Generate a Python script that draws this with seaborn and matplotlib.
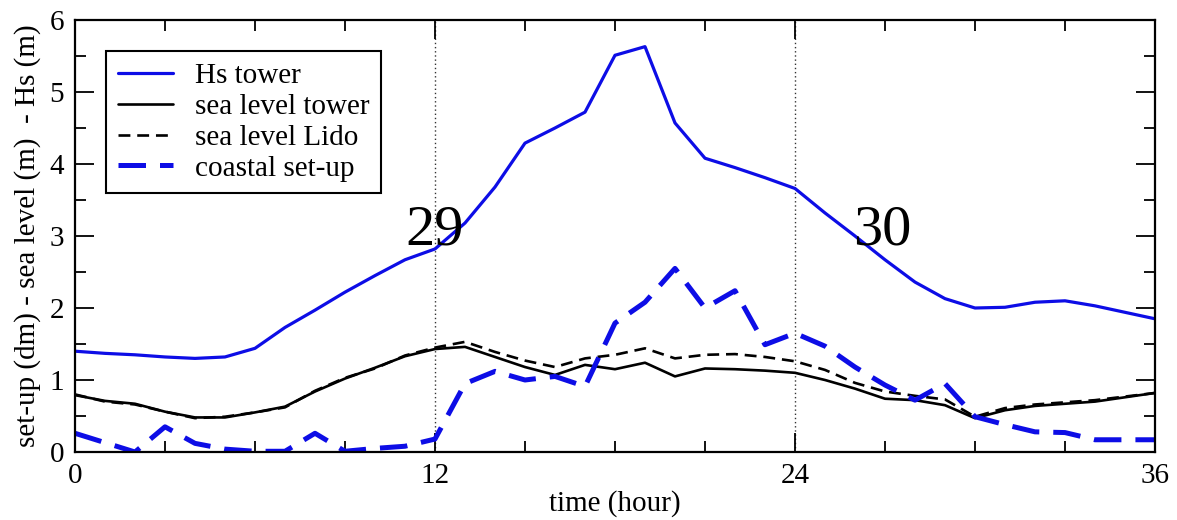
import numpy as np
import pandas as pd
import matplotlib
matplotlib.use("Agg")
import matplotlib.pyplot as plt
from matplotlib.ticker import MultipleLocator
import seaborn as sns

# ---- data ----
time_h = list(range(0, 37))
hs_tower = [1.40, 1.37, 1.35, 1.32, 1.30, 1.32, 1.44, 1.73, 1.97, 2.22, 2.45, 2.67, 2.82,
            3.18, 3.68, 4.29, 4.50, 4.72, 5.51, 5.63, 4.57, 4.08, 3.95, 3.81, 3.66,
            3.32, 3.00, 2.67, 2.36, 2.13, 2.00, 2.01, 2.08, 2.10, 2.03, 1.94, 1.85]
sea_tower = [0.79, 0.71, 0.67, 0.56, 0.48, 0.48, 0.55, 0.63, 0.84, 1.02, 1.17, 1.33, 1.43,
             1.46, 1.32, 1.18, 1.07, 1.21, 1.15, 1.24, 1.05, 1.16, 1.15, 1.13, 1.10,
             1.00, 0.88, 0.74, 0.72, 0.65, 0.47, 0.58, 0.64, 0.67, 0.70, 0.76, 0.82]
sea_lido = [0.80, 0.70, 0.66, 0.56, 0.47, 0.49, 0.55, 0.62, 0.85, 1.03, 1.16, 1.34, 1.45,
            1.53, 1.39, 1.27, 1.18, 1.30, 1.35, 1.44, 1.30, 1.35, 1.36, 1.32, 1.26,
            1.14, 0.96, 0.84, 0.78, 0.73, 0.49, 0.61, 0.66, 0.69, 0.72, 0.77, 0.82]
coastal_setup = [0.26, 0.13, 0.00, 0.35, 0.12, 0.04, 0.01, 0.01, 0.26, 0.01, 0.05, 0.08, 0.18,
                 0.95, 1.12, 1.00, 1.05, 0.91, 1.79, 2.08, 2.55, 2.00, 2.24, 1.49, 1.65,
                 1.47, 1.18, 0.93, 0.72, 0.95, 0.49, 0.38, 0.28, 0.27, 0.17, 0.17, 0.17]
day_marks = [12, 24]
day_labels = ["29", "30"]
day_label_x = [12, 26.9]
day_label_y = [3.08, 3.08]
x_ticks = [0, 12, 24, 36]
y_ticks = [0, 1, 2, 3, 4, 5, 6]

# ---- style ----
sns.set_style("ticks")
plt.rcParams["font.family"] = ["Liberation Serif", "DejaVu Serif"]
for key in ["text.color", "axes.labelcolor", "xtick.color", "ytick.color", "axes.edgecolor"]:
    plt.rcParams[key] = "black"

BLUE = "#0d0de6"

fig = plt.figure(figsize=(11.77, 5.2), dpi=100)
ax = fig.add_axes([75 / 1177, 68 / 520, 1080 / 1177, 432 / 520])

sns.lineplot(x=time_h, y=hs_tower, ax=ax, color=BLUE, lw=2.3, label="Hs tower")
sns.lineplot(x=time_h, y=sea_tower, ax=ax, color="black", lw=1.9, label="sea level tower")
sns.lineplot(x=time_h, y=sea_lido, ax=ax, color="black", lw=1.9,
             linestyle=(0, (4.5, 2.6)), label="sea level Lido")
sns.lineplot(x=time_h, y=coastal_setup, ax=ax, color=BLUE, lw=3.6,
             linestyle=(0, (5.5, 2.8)), label="coastal set-up")

for xm in day_marks:
    ax.axvline(xm, color="#333333", ls=(0, (1, 2)), lw=1.0, zorder=0)
for lx, ly, lab in zip(day_label_x, day_label_y, day_labels):
    ax.text(lx, ly, lab, fontsize=42, ha="center", va="center", color="black")

ax.set_xlim(0, 36)
ax.set_ylim(0, 6)
ax.set_xticks(x_ticks)
ax.set_yticks(y_ticks)
ax.xaxis.set_minor_locator(MultipleLocator(3))
ax.yaxis.set_minor_locator(MultipleLocator(0.5))
ax.tick_params(which="both", direction="in", top=True, right=True, width=1.3,
               colors="black", labelsize=21, pad=8)
ax.tick_params(which="major", length=14)
ax.tick_params(which="minor", length=8)
for s in ax.spines.values():
    s.set_linewidth(1.6)
    s.set_color("black")

ax.set_xlabel("time (hour)", fontsize=21, labelpad=1)
ax.set_ylabel("set-up (dm) - sea level (m)  - Hs (m)", fontsize=21, labelpad=6)

leg = ax.legend(loc="upper left", bbox_to_anchor=(0.029, 0.928), borderaxespad=0,
                fontsize=21, frameon=True, fancybox=False, edgecolor="black",
                handlelength=1.9, handletextpad=0.75, labelspacing=0.15,
                borderpad=0.4)
leg.get_frame().set_linewidth(1.5)
leg.get_frame().set_alpha(1)
for t in leg.get_texts():
    t.set_color("black")

fig.savefig("out.png", dpi=100)
